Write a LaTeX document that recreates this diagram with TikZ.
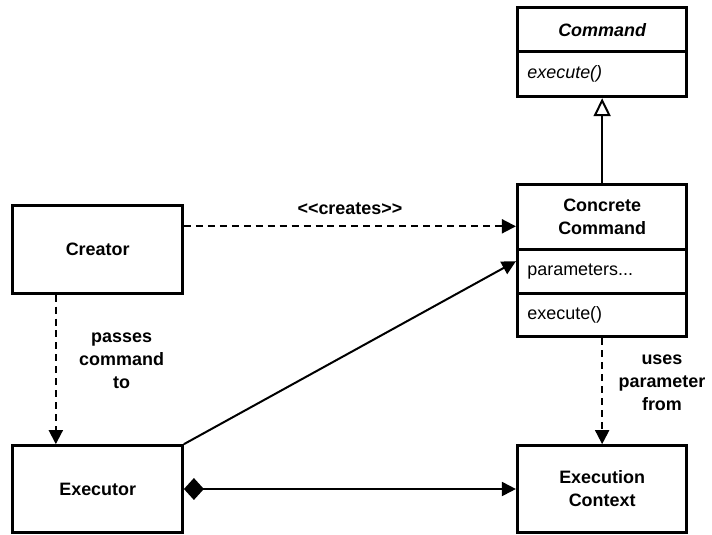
\documentclass[tikz,border=0pt]{standalone}
\usepackage{fontspec}
\setmainfont{Liberation Sans}
\usetikzlibrary{arrows.meta}
\definecolor{umlink}{HTML}{000000}

\begin{document}
\begin{tikzpicture}[
  x=0.5pt,
  y=-0.5pt,
  every node/.style={font=\fontsize{9}{11.5}\selectfont, umlink},
  classbox/.style={draw, line width=1.5pt, minimum width=85pt, inner sep=0pt,
    align=center, font=\fontsize{9}{11.5}\selectfont\bfseries},
  membox/.style={draw, line width=1.5pt, text width=75pt, inner xsep=5pt,
    inner ysep=0pt, align=left},
  dep/.style={umlink, line width=1pt, dash pattern=on 3.5pt off 2.5pt,
    -{Triangle[length=7pt, width=7pt]}},
  assoc/.style={umlink, line width=1pt, -{Triangle[length=7pt, width=7pt]}},
  inherit/.style={umlink, line width=1pt,
    -{Triangle[open, length=9pt, width=8.5pt, fill=white]}},
  comp/.style={umlink, line width=1pt,
    {Diamond[length=10pt, width=11pt]}-{Triangle[length=7pt, width=7pt]}},
  lbl/.style={font=\fontsize{9}{11.5}\selectfont\bfseries, align=center}
]
  % ---- page frame, 712 x 536 px ----
  \path (0,0) rectangle (712,536);

  % ---- abstract command ----
  \node[classbox, minimum height=22pt,
        font=\fontsize{9}{11.5}\selectfont\bfseries\itshape]
    (cmdname) at (604,30) {Command};
  \node[membox, minimum height=22.5pt, font=\fontsize{9}{11.5}\selectfont\itshape]
    (cmdops) at (604,74.5) {execute()};

  % ---- concrete command ----
  \node[classbox, minimum height=32.5pt] (ccname) at (604,217.5) {Concrete\\Command};
  \node[membox, minimum height=22pt] (ccattr) at (604,272) {parameters...};
  \node[membox, minimum height=22pt] (ccops) at (604,316) {execute()};

  % ---- the other three classes ----
  \node[classbox, minimum height=44pt] (creator) at (98,250) {Creator};
  \node[classbox, minimum height=43.5pt] (executor) at (98,490.5) {Executor};
  \node[classbox, minimum height=43.5pt] (context) at (604,490.5) {Execution\\Context};

  % ---- relations ----
  \draw[inherit] (ccname.north) -- (cmdops.south);
  \draw[dep] ([yshift=11.5pt]creator.east) -- ([yshift=11.5pt]creator.east -| ccname.west)
    node[midway, above=2pt, lbl] (createslbl) {<{}<creates>{}>};
  \draw[dep] ([xshift=-21pt]creator.south) -- ([xshift=-21pt]executor.north);
  \draw[assoc] (executor.north east) -- ([yshift=5pt]ccattr.west);
  \draw[comp] (executor.east) -- (context.west);
  \draw[dep] (ccops.south) -- (context.north);

  % ---- labels beside the dashed arrows ----
  \node[lbl] (passlbl) at (122,362) {passes\\command\\to};
  \node[lbl] (useslbl) at (664,384) {uses\\parameter\\from};
\end{tikzpicture}
\end{document}
